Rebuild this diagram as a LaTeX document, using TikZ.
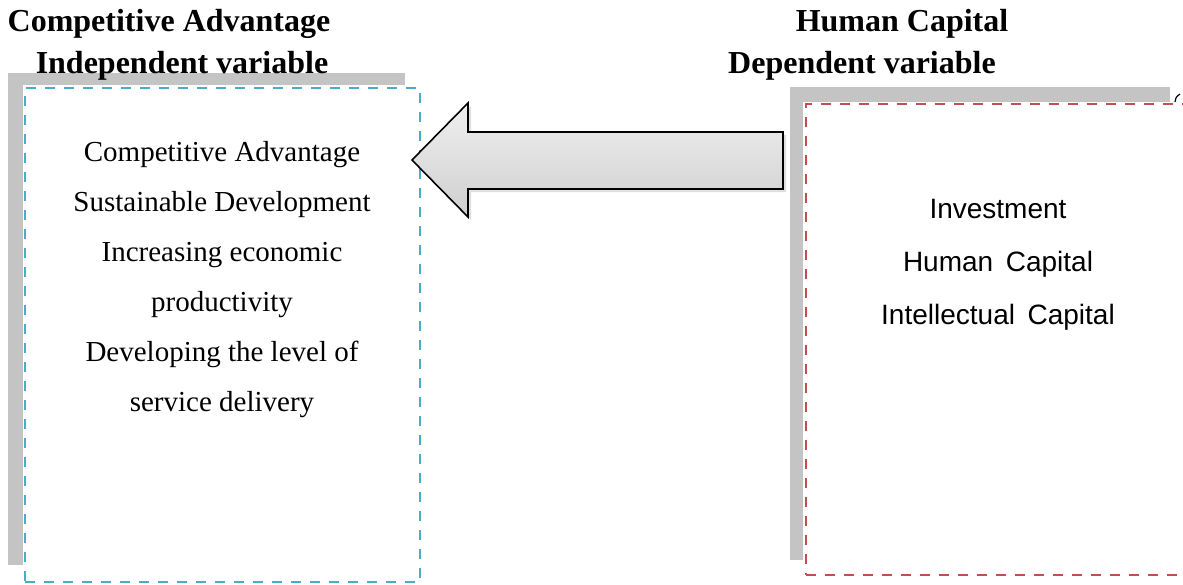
\documentclass[tikz,border=0pt]{standalone}
\usepackage{fontspec}
\setmainfont{Liberation Serif}
\newfontfamily\arialfont{Liberation Sans}
\usetikzlibrary{shadows}
\definecolor{aqualine}{HTML}{4BACC6}
\definecolor{redline}{HTML}{C0504D}
\definecolor{backgray}{HTML}{C4C4C4}
\tikzset{
	varbox/.style={draw=#1, line width=1.2pt, dash pattern=on 5pt off 4.5pt, inner sep=0pt, outer sep=0pt},
	heading/.style={font=\fontsize{16}{19}\selectfont\bfseries, inner sep=0pt},
	bigarrow/.style={draw=black, line width=0.8pt, line join=miter, top color=gray!12, bottom color=gray!38,
		drop shadow={opacity=0.25, shadow xshift=1.5pt, shadow yshift=-1.5pt}},
}
\begin{document}
\begin{tikzpicture}[x=0.5pt,y=-0.5pt]
	\useasboundingbox (0,0) rectangle (1183,584);
	% grey frames behind the two boxes
	\fill[backgray] (8,73) rectangle (405,85);
	\fill[backgray] (8,73) rectangle (23,565);
	\fill[backgray] (790,87) rectangle (1170,102);
	\fill[backgray] (790,87) rectangle (803,560);
	\draw[line width=0.6pt] (1175,102) .. controls (1176,97) .. (1180,94);
	% boxes
	\node[varbox=aqualine, minimum width=197.5pt, minimum height=247pt] (indep) at (222.5,335) {};
	\node[varbox=redline, minimum width=202pt, minimum height=235.5pt] (dep) at (1008,339.5) {};
	% headings
	\node[heading] (indephead) at (169,24) {Competitive Advantage};
	\node[heading] (indepvar) at (182,66) {Independent variable};
	\node[heading] (dephead) at (902,24) {Human Capital};
	\node[heading] (depvar) at (862,66) {Dependent variable};
	% contents
	\node[font=\fontsize{14.5}{25}\selectfont, align=center, anchor=north, inner sep=0pt] (indeptext) at (222,141)
		{Competitive Advantage\\Sustainable Development\\Increasing economic\\productivity\\Developing the level of\\service delivery};
	\node[font=\arialfont\fontsize{14}{26.5}\selectfont, align=center, anchor=north, inner sep=0pt] (deptext) at (998,199)
		{Investment\\Human\hspace{0.45em}Capital\\Intellectual\hspace{0.45em}Capital};
	% arrow
	\draw[bigarrow] (412,160) -- (468,103) -- (468,132) -- (783,132) -- (783,189) -- (468,189) -- (468,217) -- cycle;
\end{tikzpicture}
\end{document}
